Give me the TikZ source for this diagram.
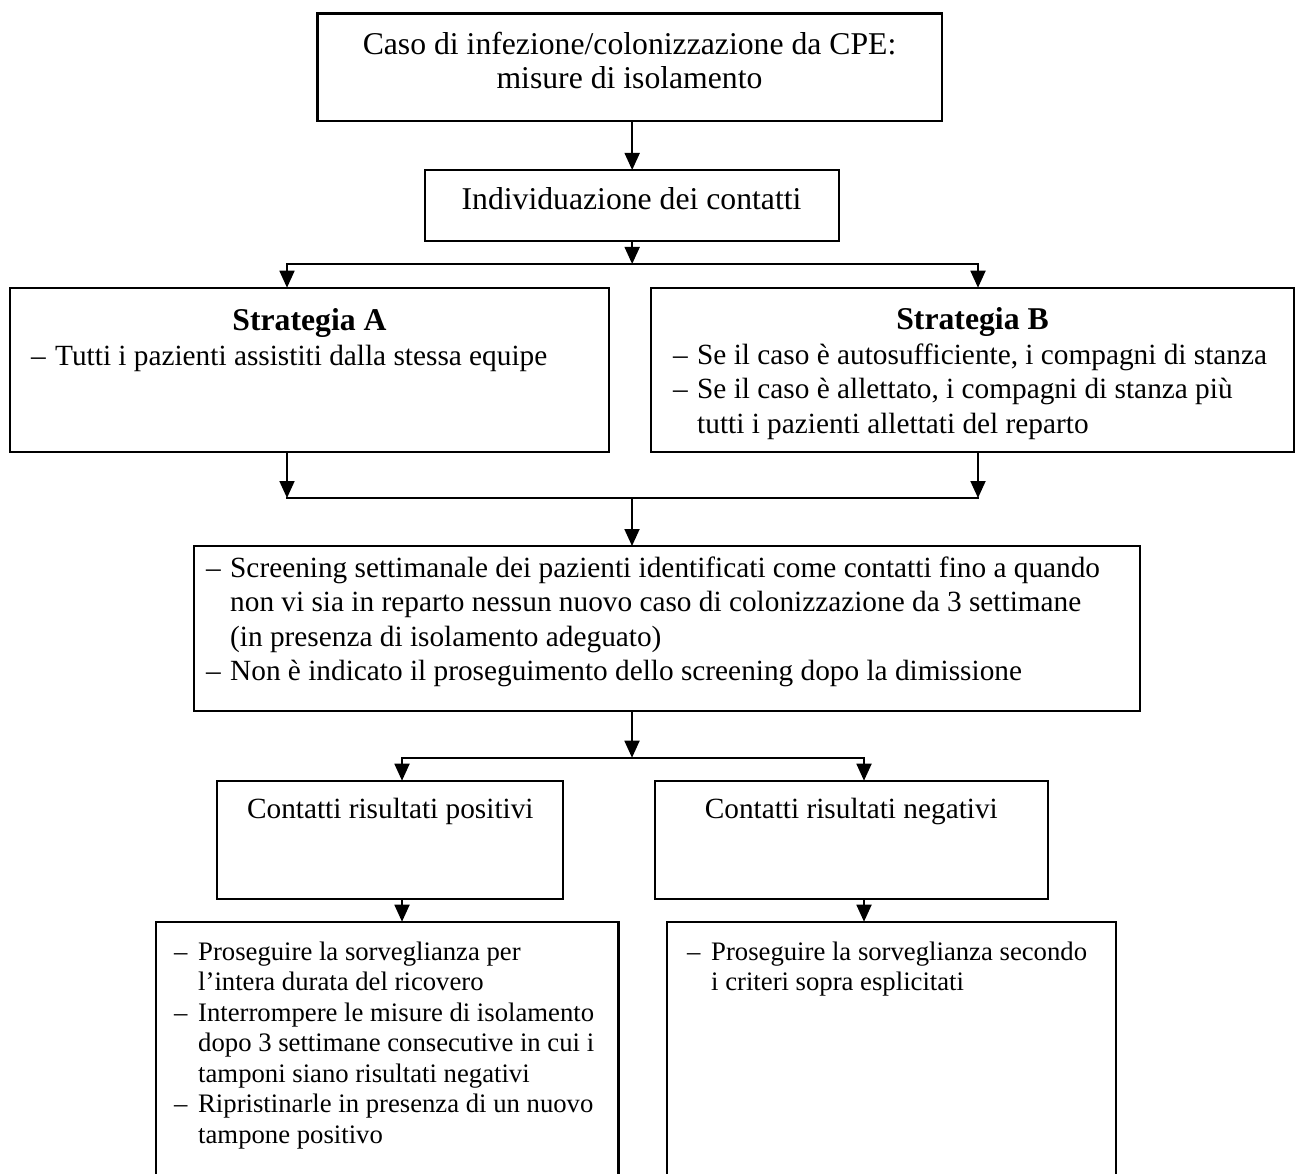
\documentclass[tikz,border=0pt]{standalone}
\usepackage{fontspec}
\setmainfont{Liberation Serif}
\usetikzlibrary{arrows.meta}
\newcommand{\dashitem}{\llap{\makebox[24pt][l]{–}}}
\begin{document}
\begin{tikzpicture}[x=1pt,y=-1pt,
  box/.style={draw, line width=2.2pt, inner sep=0pt, outer sep=0pt, rectangle},
  conn/.style={line width=1.8pt},
  hline/.style={conn, line cap=rect},
  arr/.style={conn, -{Triangle[length=17pt,width=15pt]}},
  ttl/.style={inner sep=0pt, anchor=base, font=\fontsize{31.7}{38}\selectfont},
  tbf/.style={inner sep=0pt, anchor=base, font=\fontsize{31.7}{38}\selectfont\bfseries},
  ln/.style={inner sep=0pt, anchor=base west, font=\fontsize{29.3}{35}\selectfont},
  mid/.style={inner sep=0pt, anchor=base, font=\fontsize{29.3}{35}\selectfont},
  sm/.style={inner sep=0pt, anchor=base west, font=\fontsize{26.7}{32}\selectfont},
]
\useasboundingbox (0,0) rectangle (1295,1174);
\fill[white] (0,0) rectangle (1295,1174);
\clip (0,0) rectangle (1295,1174);

% boxes
\node[box, minimum width=624.2, minimum height=107.2] (top) at (629.6,67.1) {};
\node[box, minimum width=414.3, minimum height=70.7] (ind) at (632.15,205.35) {};
\node[box, minimum width=599.3, minimum height=164] (sa) at (309.65,369.7) {};
\node[box, minimum width=643, minimum height=164] (sb) at (972.5,369.7) {};
\node[box, minimum width=946, minimum height=164.7] (scr) at (667,628.35) {};
\node[box, minimum width=346, minimum height=118.3] (pos) at (390.3,839.85) {};
\node[box, minimum width=392.7, minimum height=118.3] (neg) at (851.35,839.85) {};
\node[box, minimum width=462.5, minimum height=278.3] (bl) at (387.25,1060.85) {};
\node[box, minimum width=449, minimum height=278.3] (br) at (891.5,1060.85) {};

% texts
\node[ttl] (t1) at (629.5,55) {Caso di infezione/colonizzazione da CPE:};
\node[ttl] (t2) at (629.5,89) {misure di isolamento};
\node[ttl] (i1) at (631.5,210) {Individuazione dei contatti};

\node[tbf] (sat) at (309.5,330) {Strategia A};
\node[ln] (sa1) at (55,365) {\dashitem Tutti i pazienti assistiti dalla stessa equipe};

\node[tbf] (sbt) at (972.5,329) {Strategia B};
\node[ln] (sb1) at (697,364) {\dashitem Se il caso è autosufficiente, i compagni di stanza};
\node[ln] (sb2) at (697,398.5) {\dashitem Se il caso è allettato, i compagni di stanza più};
\node[ln] (sb3) at (697,433) {tutti i pazienti allettati del reparto};

\node[ln] (s1) at (230,577) {\dashitem Screening settimanale dei pazienti identificati come contatti fino a quando};
\node[ln] (s2) at (230,611.5) {non vi sia in reparto nessun nuovo caso di colonizzazione da 3 settimane};
\node[ln] (s3) at (230,646) {(in presenza di isolamento adeguato)};
\node[ln] (s4) at (230,680) {\dashitem Non è indicato il proseguimento dello screening dopo la dimissione};

\node[mid] (pt) at (390.3,818) {Contatti risultati positivi};
\node[mid] (nt) at (851.3,818) {Contatti risultati negativi};

\node[sm] (p1) at (198,960) {\dashitem Proseguire la sorveglianza per};
\node[sm] (p2) at (198,990.5) {l’intera durata del ricovero};
\node[sm] (p3) at (198,1021) {\dashitem Interrompere le misure di isolamento};
\node[sm] (p4) at (198,1051.5) {dopo 3 settimane consecutive in cui i};
\node[sm] (p5) at (198,1082) {tamponi siano risultati negativi};
\node[sm] (p6) at (198,1112.5) {\dashitem Ripristinarle in presenza di un nuovo};
\node[sm] (p7) at (198,1143) {tampone positivo};

\node[sm] (n1) at (711,960) {\dashitem Proseguire la sorveglianza secondo};
\node[sm] (n2) at (711,990.5) {i criteri sopra esplicitati};

% connectors
\coordinate (j1) at (632,264);
\coordinate (jA) at (287,264);
\coordinate (jB) at (978,264);
\coordinate (m1) at (632,498);
\coordinate (mA) at (287,498);
\coordinate (mB) at (978,498);
\coordinate (k1) at (632,757.7);
\coordinate (kP) at (402,757.7);
\coordinate (kN) at (864,757.7);

\draw[arr] (ind.north |- top.south) -- (ind.north);
\draw[arr] (ind.south) -- (ind.south |- j1);
\draw[hline] (jA) -- (jB);
\draw[arr] (jA) -- (jA |- sa.north);
\draw[arr] (jB) -- (jB |- sb.north);

\draw[arr] (mA |- sa.south) -- (mA);
\draw[arr] (mB |- sb.south) -- (mB);
\draw[hline] (mA) -- (mB);
\draw[arr] (m1) -- (m1 |- scr.north);

\draw[arr] (k1 |- scr.south) -- (k1);
\draw[hline] (kP) -- (kN);
\draw[arr] (kP) -- (kP |- pos.north);
\draw[arr] (kN) -- (kN |- neg.north);
\draw[arr] (kP |- pos.south) -- (kP |- bl.north);
\draw[arr] (kN |- neg.south) -- (kN |- br.north);
\end{tikzpicture}
\end{document}
